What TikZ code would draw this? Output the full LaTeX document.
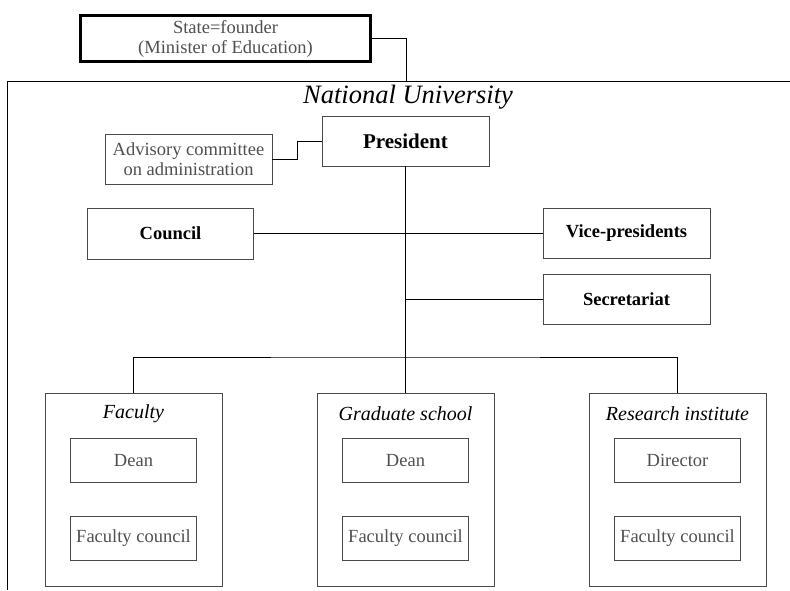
\documentclass[tikz,border=0pt]{standalone}
\usepackage{fontspec}
\setmainfont{Liberation Serif}
\begin{document}
\begin{tikzpicture}[x=1pt,y=-1pt,
  every node/.style={inner sep=0pt, align=center},
  box/.style={draw=boxgray, line width=0.9pt, fill=white},
  plainbox/.style={box, text=txtgray, font=\fontsize{18.5}{20}\selectfont},
  boldbox/.style={box, text=black, font=\bfseries\fontsize{18.5}{20}\selectfont},
  unit/.style={box, minimum width=177, minimum height=193},
  inner/.style={plainbox, minimum width=126, minimum height=44},
  unittitle/.style={font=\itshape\fontsize{20}{21}\selectfont},
  link/.style={draw=black, line width=0.8pt},
  spine/.style={draw=black, line width=1.4pt}]
\definecolor{boxgray}{HTML}{4A4A4A}
\definecolor{txtgray}{HTML}{505050}
\useasboundingbox (0,0) rectangle (790,590);

% founder above the university frame
\node[box, draw=black, line width=3pt, text=txtgray,
      minimum width=290, minimum height=46,
      font=\fontsize{18.5}{20}\selectfont] (founder) at (225.5,38.5)
      {State=founder\\(Minister of Education)};

% open frame of the university
\coordinate (ftop) at (406,81);
\draw[link] (790,81) -- (7.5,81) -- (7.5,590);
\draw[link] (founder.east) -| (ftop);
\node[font=\itshape\fontsize{26.5}{28}\selectfont] (uni) at (408,97) {National University};

% central administration
\node[boldbox, minimum width=167, minimum height=50,
      font=\bfseries\fontsize{21}{22}\selectfont] (pres) at (405.5,141) {President};
\node[plainbox, minimum width=167, minimum height=50] (adv) at (188.5,159)
      {Advisory committee\\on administration};
\node[boldbox, minimum width=166, minimum height=51] (council) at (170.5,233.5) {Council};
\node[boldbox, minimum width=167, minimum height=50] (vice) at (626.5,233.5) {Vice-presidents};
\node[boldbox, minimum width=167, minimum height=50] (sec) at (626.5,299) {Secretariat};

% academic units
\node[unit] (fac) at (133.5,489.5) {};
\node[unit] (grad) at (405.5,489.5) {};
\node[unit] (res) at (677.5,489.5) {};
\node[unittitle] (facT) at (133.5,414) {Faculty};
\node[unittitle] (gradT) at (405.5,414) {Graduate school};
\node[unittitle] (resT) at (677.5,414) {Research institute};
\node[inner] (facD) at (133.5,460.5) {Dean};
\node[inner] (facC) at (133.5,538) {Faculty council};
\node[inner] (gradD) at (405.5,460.5) {Dean};
\node[inner] (gradC) at (405.5,538) {Faculty council};
\node[inner] (resD) at (677.5,460.5) {Director};
\node[inner] (resC) at (677.5,538) {Faculty council};

% connectors
\coordinate (bus) at (405.5,357);
\draw[link] (adv.east) -- ++(25,0) |- (pres.west);
\draw[spine] (pres.south) -- (bus);
\draw[link] (bus) -- (grad.north);
\draw[link] (council.east) -- (vice.west);
\draw[link] (sec.west) -- (sec.west -| pres.south);
\draw[link] (fac.north) |- (bus) -| (res.north);
\end{tikzpicture}
\end{document}
